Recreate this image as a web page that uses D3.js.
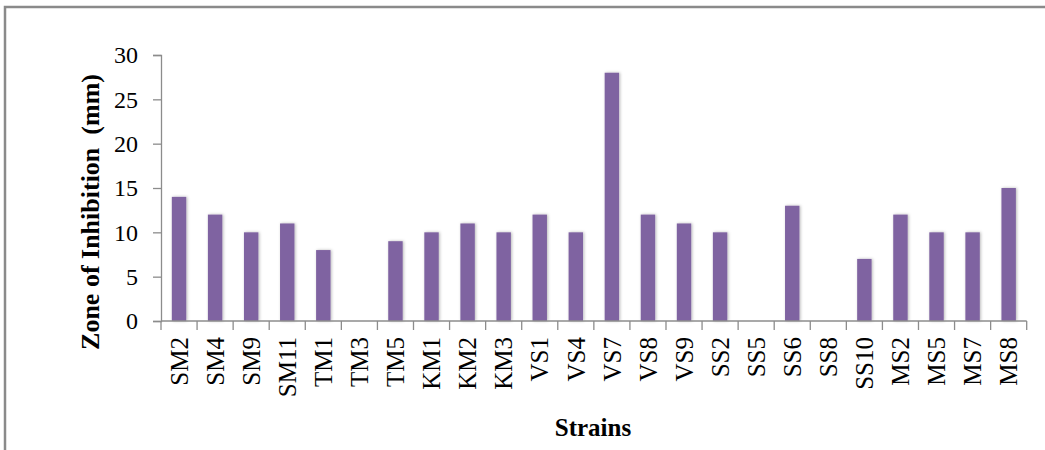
<!DOCTYPE html>
<html><head><meta charset="utf-8">
<script src="https://cdn.jsdelivr.net/npm/d3@7"></script>
<style>body{margin:0;background:#fff}svg{display:block}</style>
</head><body>
<svg id="c" width="1045" height="450"></svg>
<script>
const categories = ["SM2","SM4","SM9","SM11","TM1","TM3","TM5","KM1","KM2","KM3","VS1","VS4","VS7","VS8","VS9","SS2","SS5","SS6","SS8","SS10","MS2","MS5","MS7","MS8"];
const values = [14,12,10,11,8,0,9,10,11,10,12,10,28,12,11,10,0,13,0,7,12,10,10,15];
const yTicks = [0,5,10,15,20,25,30];
const yLabel = "Zone of Inhibition  (mm)";
const xLabel = "Strains";

const svg = d3.select("#c");
const font = "'Liberation Serif','Times New Roman',serif";
const L = 161, R = 1026.7, T = 55, B = 321;

svg.append("rect").attr("x",5).attr("y",7).attr("width",1060).attr("height",470)
  .attr("fill","none").attr("stroke","#8a8a8a").attr("stroke-width",2.5);

const defs = svg.append("defs");
const f = defs.append("filter").attr("id","sh").attr("x","-50%").attr("y","-10%").attr("width","200%").attr("height","120%");
f.append("feDropShadow").attr("dx",1).attr("dy",0).attr("stdDeviation",1.6)
  .attr("flood-color","#000").attr("flood-opacity",0.28);

const pad = 0.6;
const x = d3.scaleBand().domain(categories).range([L,R]).paddingInner(pad).paddingOuter(pad/2);
const y = d3.scaleLinear().domain([0,30]).range([B,T]);

svg.append("g").selectAll("rect").data(categories).join("rect")
  .attr("x", d => x(d)).attr("width", x.bandwidth())
  .attr("y", (d,i) => y(values[i])).attr("height", (d,i) => y(0) - y(values[i]))
  .attr("fill","#7f63a1").attr("filter","url(#sh)")
  .style("display",(d,i)=>values[i]>0?null:"none");

// Y axis
const ya = svg.append("g").attr("transform",`translate(${L},0)`)
  .call(d3.axisLeft(y).tickValues(yTicks).tickSize(8).tickPadding(15));
ya.select(".domain").attr("stroke","#8c8c8c").attr("stroke-width",1.3);
ya.selectAll(".tick line").attr("stroke","#8c8c8c").attr("stroke-width",1.3);
ya.selectAll("text").attr("font-family",font).attr("font-size",24).attr("fill","#000");

// X axis
const step = x.step();
const xa = svg.append("g").attr("transform",`translate(0,${B})`)
  .call(d3.axisBottom(x).tickSize(0).tickPadding(0));
xa.select(".domain").remove();
xa.append("line").attr("x1",L).attr("x2",R).attr("y1",0).attr("y2",0).attr("stroke","#8c8c8c").attr("stroke-width",1.3);
xa.selectAll(".bnd").data(d3.range(categories.length+1)).join("line")
  .attr("x1",i=>L+i*step).attr("x2",i=>L+i*step).attr("y1",0).attr("y2",9)
  .attr("stroke","#8c8c8c").attr("stroke-width",1.3);
xa.selectAll(".tick text")
  .attr("font-family",font).attr("font-size",25).attr("fill","#000")
  .attr("text-anchor","end").attr("dy","0.35em")
  .attr("transform","translate(0,16) rotate(-90)");

svg.append("text").attr("transform","translate(99,212) rotate(-90)")
  .attr("text-anchor","middle").attr("font-family",font).attr("font-weight","bold")
  .attr("font-size",26).style("white-space","pre").text(yLabel);
svg.append("text").attr("x",593).attr("y",436).attr("text-anchor","middle")
  .attr("font-family",font).attr("font-weight","bold").attr("font-size",25).text(xLabel);
</script>
</body></html>
